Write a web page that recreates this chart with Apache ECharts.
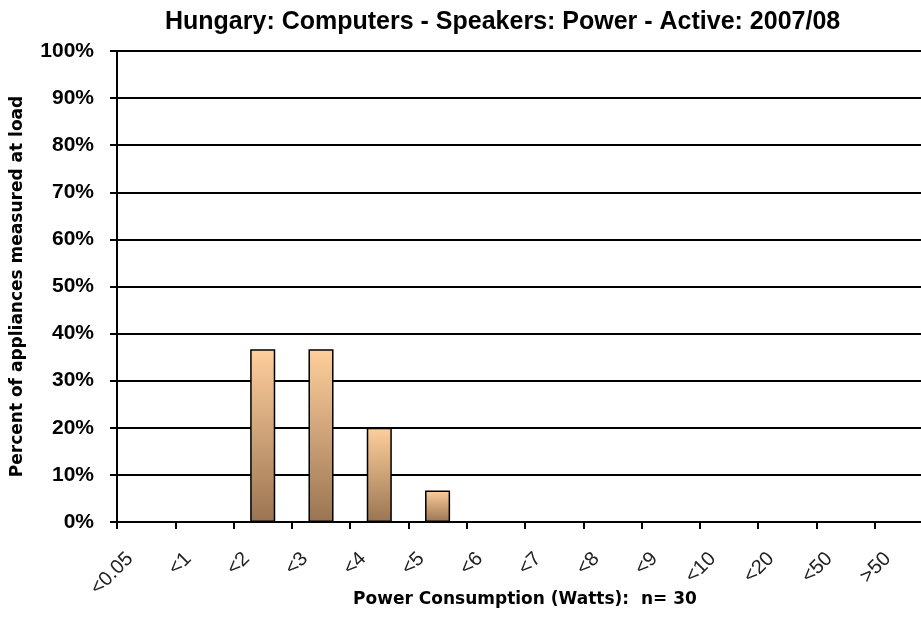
<!DOCTYPE html>
<html>
<head>
<meta charset="utf-8">
<script src="https://cdn.jsdelivr.net/npm/echarts@6/dist/echarts.min.js"></script>
<style>
  html, body { margin: 0; padding: 0; background: #fff; }
  #chart { width: 921px; height: 625px; }
</style>
</head>
<body>
<div id="chart"></div>
<script>
// power bins (x axis) and share of appliances in each bin, in percent
const categories = ["<0.05", "<1", "<2", "<3", "<4", "<5", "<6", "<7", "<8", "<9", "<10", "<20", "<50", ">50"];
const percentValues = [0, 0, 36.67, 36.67, 20, 6.67, 0, 0, 0, 0, 0, 0, 0, 0];
const yTicks = [0, 10, 20, 30, 40, 50, 60, 70, 80, 90, 100];

const chart = echarts.init(document.getElementById("chart"));

// 값이 0인 막대는 테두리도 그리지 않음
const barData = percentValues.map((v) =>
  v === 0 ? { value: v, itemStyle: { borderWidth: 0 } } : v
);

const option = {
  animation: false,
  title: {
    text: "Hungary: Computers - Speakers: Power - Active: 2007/08",
    left: 160,
    top: 5,
    textStyle: {
      fontFamily: "Liberation Sans",
      fontWeight: "bold",
      fontSize: 25,
      color: "#000",
    },
  },
  grid: {
    left: 117,
    width: 816,
    top: 51,
    bottom: 103,
    outerBoundsMode: "none", // 오른쪽이 잘린 원본처럼 그리드를 줄이지 않음
  },
  xAxis: {
    type: "category",
    data: categories,
    boundaryGap: true,
    name: "Power Consumption (Watts):  n= 30",
    nameLocation: "middle",
    nameGap: 69,
    nameMoveOverlap: false,
    nameTextStyle: {
      fontFamily: "DejaVu Sans",
      fontWeight: "bold",
      fontSize: 17,
      color: "#000",
    },
    axisLine: { lineStyle: { color: "#000", width: 2 } },
    axisTick: { show: true, length: 7, lineStyle: { color: "#000", width: 2 } },
    axisLabel: {
      interval: 0,
      rotate: 45,
      margin: 50,
      lineHeight: 46, // 라벨을 눈금 쪽(왼쪽 위)으로 당기기 위함
      verticalAlign: "bottom",
      fontFamily: "Liberation Sans",
      fontSize: 20,
      color: "#222",
    },
  },
  yAxis: {
    type: "value",
    min: 0,
    max: 100,
    interval: 10,
    name: "Percent of appliances measured at load",
    nameLocation: "middle",
    nameGap: 91,
    nameTextStyle: {
      fontFamily: "DejaVu Sans",
      fontWeight: "bold",
      fontSize: 17,
      color: "#000",
    },
    axisLine: { show: true, lineStyle: { color: "#000", width: 2 } },
    axisTick: { show: true, length: 7, lineStyle: { color: "#000", width: 2 } },
    axisLabel: {
      margin: 23,
      fontFamily: "Liberation Sans",
      fontWeight: "bold",
      fontSize: 21,
      color: "#000",
      formatter: (v) => (yTicks.includes(v) ? v + "%" : ""),
    },
    splitLine: { show: true, lineStyle: { color: "#000", width: 2 } },
  },
  series: [
    {
      type: "bar",
      data: barData,
      barWidth: "43%",
      itemStyle: {
        color: new echarts.graphic.LinearGradient(0, 0, 0, 1, [
          { offset: 0, color: "#ffcf9c" },
          { offset: 1, color: "#9a7552" },
        ]),
        borderColor: "#000",
        borderWidth: 1.5,
      },
    },
  ],
};

chart.setOption(option);
</script>
</body>
</html>
